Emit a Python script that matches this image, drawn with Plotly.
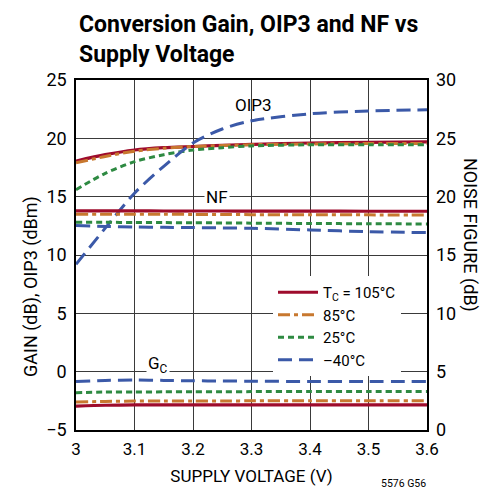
import plotly.graph_objects as go

# supply voltage (V)
vsup = [3.0, 3.05, 3.1, 3.15, 3.2, 3.25, 3.3, 3.4, 3.5, 3.6]

# OIP3 (dBm), left axis
oip3_105 = [18.05, 18.6, 19.0, 19.2, 19.3, 19.4, 19.48, 19.6, 19.65, 19.7]
oip3_85 = [17.9, 18.45, 18.9, 19.15, 19.3, 19.38, 19.45, 19.52, 19.55, 19.55]
oip3_25 = [15.6, 17.0, 18.0, 18.6, 19.0, 19.2, 19.35, 19.45, 19.45, 19.45]
oip3_m40 = [9.2, 12.3, 15.3, 17.6, 19.6, 20.8, 21.5, 22.1, 22.35, 22.45]

# noise figure (dB), right axis
nf_105 = [18.78, 18.78, 18.78, 18.77, 18.77, 18.77, 18.76, 18.76, 18.75, 18.75]
nf_85 = [18.5, 18.5, 18.49, 18.49, 18.48, 18.47, 18.46, 18.45, 18.44, 18.43]
nf_25 = [17.8, 17.8, 17.79, 17.78, 17.76, 17.75, 17.73, 17.7, 17.68, 17.66]
nf_m40 = [17.52, 17.45, 17.4, 17.37, 17.35, 17.32, 17.29, 17.15, 17.0, 16.92]

# conversion gain (dB), left axis
gc_105 = [-2.95, -2.88, -2.85, -2.85, -2.85, -2.85, -2.85, -2.85, -2.85, -2.85]
gc_85 = [-2.6, -2.55, -2.52, -2.52, -2.51, -2.51, -2.5, -2.5, -2.5, -2.5]
gc_25 = [-1.8, -1.75, -1.74, -1.73, -1.72, -1.72, -1.71, -1.7, -1.7, -1.7]
gc_m40 = [-0.85, -0.75, -0.72, -0.75, -0.78, -0.8, -0.82, -0.84, -0.85, -0.85]

temps = ["T<sub>C</sub> = 105°C", "85°C", "25°C", "–40°C"]

STYLES = [
    dict(color="#9E0B2C", width=3.2, dash="solid"),
    dict(color="#C8782F", width=3, dash="12px,4px,4px,4px"),
    dict(color="#2E8A42", width=3, dash="6px,4px"),
    dict(color="#3B59A8", width=3, dash="14px,7px"),
]

FONT = "Roboto, Liberation Sans, sans-serif"

fig = go.Figure()

groups = [
    ([oip3_105, oip3_85, oip3_25, oip3_m40], "y"),
    ([nf_105, nf_85, nf_25, nf_m40], "y2"),
    ([gc_105, gc_85, gc_25, gc_m40], "y"),
]
for gi, (series, yax) in enumerate(groups):
    for i, ys in enumerate(series):
        fig.add_trace(
            go.Scatter(
                x=vsup,
                y=ys,
                mode="lines",
                line=dict(shape="spline", smoothing=0.8, **STYLES[i]),
                name=temps[i],
                legendgroup=temps[i],
                showlegend=(gi == 0),
                yaxis=yax,
            )
        )

# page has an 8px body margin; target plot box on screen is x 76..427, y 80..430
OFF = 8
W, H = 494, 503
L = 76 - OFF
T = 80 - OFF
R = W - (427 - OFF)
B = H - (430 - OFF)
pw, ph = W - L - R, H - T - B


def px(x):
    return (x - OFF - L) / pw


def py(y):
    return (H - B - (y - OFF)) / ph


grid = "#3a3a3a"
fig.update_layout(
    width=W,
    height=H,
    margin=dict(l=L, r=R, t=T, b=B),
    plot_bgcolor="white",
    paper_bgcolor="white",
    font=dict(family=FONT, size=17, color="black"),
    xaxis=dict(
        range=[3.0, 3.6],
        dtick=0.1,
        tickangle=0,
        showgrid=True,
        gridcolor=grid,
        gridwidth=1,
        showline=True,
        linecolor="black",
        linewidth=1.5,
        mirror=True,
        ticks="",
        zeroline=False,
        ticklabelstandoff=3,
        title=dict(text="SUPPLY VOLTAGE (V)", font=dict(size=17), standoff=12),
    ),
    yaxis=dict(
        range=[-5, 25],
        dtick=5,
        showgrid=True,
        gridcolor=grid,
        gridwidth=1,
        showline=True,
        linecolor="black",
        linewidth=1.5,
        mirror=True,
        ticks="",
        zeroline=False,
        ticklabelstandoff=4,
        tickfont=dict(size=18),
    ),
    yaxis2=dict(
        range=[0, 30],
        dtick=5,
        overlaying="y",
        side="right",
        showgrid=False,
        zeroline=False,
        ticks="",
        ticklabelstandoff=8,
        tickfont=dict(size=18),
    ),
    legend=dict(
        x=px(273),
        y=py(276),
        xanchor="left",
        yanchor="top",
        bgcolor="white",
        font=dict(size=15),
        tracegroupgap=0,
        itemwidth=40,
    ),
    annotations=[
        dict(x=px(77), y=py(9), xref="paper", yref="paper", xanchor="left", yanchor="top",
             align="left", showarrow=False,
             text="<b>Conversion Gain, OIP3 and NF vs<br>Supply Voltage</b>",
             font=dict(size=23)),
        dict(x=3.303, y=22.9, xref="x", yref="y", text="OIP3", showarrow=False),
        dict(x=3.241, y=15.0, xref="x", yref="y", text="NF", showarrow=False,
             bgcolor="white"),
        dict(x=3.141, y=0.6, xref="x", yref="y", text="G<sub>C</sub>", showarrow=False,
             bgcolor="white"),
        dict(x=px(31), y=py(287), xref="paper", yref="paper", text="GAIN (dB), OIP3 (dBm)",
             xanchor="center", yanchor="middle",
             showarrow=False, textangle=-90, font=dict(size=18)),
        dict(x=px(470), y=py(235), xref="paper", yref="paper", text="NOISE FIGURE (dB)",
             xanchor="center", yanchor="middle",
             showarrow=False, textangle=90, font=dict(size=18)),
        dict(x=px(428), y=py(492), xref="paper", yref="paper", text="5576 G56",
             showarrow=False, xanchor="right", font=dict(size=10.5)),
    ],
)

fig.write_html("out.html")
